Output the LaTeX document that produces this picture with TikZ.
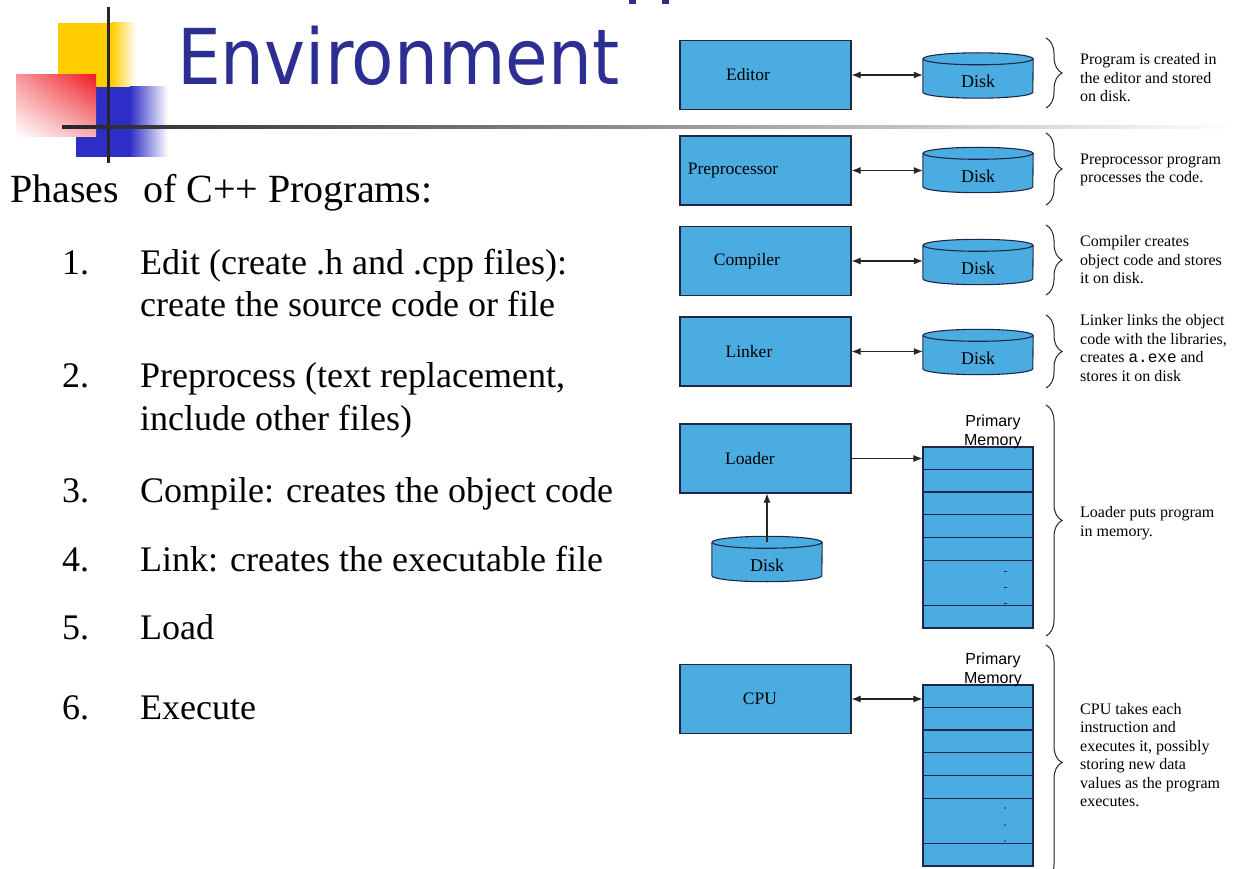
\documentclass[tikz,border=0pt]{standalone}
\usepackage{fontspec}
\setmainfont{Liberation Serif}
\newfontfamily\labelsans{Liberation Sans}
\newfontfamily\headsans{DejaVu Sans Condensed}
\newfontfamily\codemono{Liberation Mono}
\usetikzlibrary{arrows.meta,calc,decorations.pathreplacing,backgrounds,shadings}

\definecolor{stagefill}{RGB}{75,172,226}
\definecolor{stageline}{RGB}{30,40,70}
\definecolor{headblue}{RGB}{44,46,145}
\definecolor{sqyellow}{RGB}{255,204,0}
\definecolor{sqblue}{RGB}{45,45,200}
\definecolor{sqred}{RGB}{238,28,36}

\tikzset{
  stagebox/.style={draw=stageline, line width=1.1pt, fill=stagefill,
    minimum width=171pt, minimum height=69pt, inner sep=0pt,
    font=\fontsize{17.5}{20}\selectfont},
  diskbody/.style={minimum width=110pt, minimum height=33pt, inner sep=0pt,
    font=\fontsize{18}{20}\selectfont},
  membox/.style={draw=stageline, line width=1.1pt, fill=stagefill,
    minimum width=110pt, minimum height=181pt, inner sep=0pt},
  memrule/.style={draw=stageline, line width=1.2pt},
  memlabel/.style={font=\labelsans\fontsize{16}{19}\selectfont, align=center,
    inner sep=0pt, anchor=south},
  note/.style={font=\fontsize{16}{18.5}\selectfont, align=left, anchor=west,
    inner sep=0pt},
  flow/.style={line width=1.1pt, draw=black!85},
  phasebrace/.style={decorate, decoration={brace, amplitude=16pt},
    line width=1pt, draw=black!85},
  listnum/.style={font=\fontsize{36}{43}\selectfont, anchor=base west, inner sep=0pt},
  listtext/.style={font=\fontsize{36}{43}\selectfont, anchor=base west, inner sep=0pt},
}

% cylinder outline around a disk label node
\newcommand\diskshape[1]{%
  \fill[stagefill] ([yshift=6pt]#1.north west) rectangle ([yshift=6pt]#1.south east);
  \fill[stagefill] ([yshift=6pt]#1.south) ellipse [x radius=55pt, y radius=6pt];
  \draw[stageline, line width=1.1pt] ([yshift=6pt]#1.north west) -- ([yshift=6pt]#1.south west)
    arc[start angle=180, end angle=360, x radius=55pt, y radius=6pt]
    -- ([yshift=6pt]#1.north east);
  \draw[stageline, line width=1.1pt, fill=stagefill] ([yshift=6pt]#1.north)
    ellipse [x radius=55pt, y radius=6pt];
}

\begin{document}
\begin{tikzpicture}[x=1pt,y=-1pt,>={Latex[length=9pt,width=7pt]}]
\useasboundingbox (0,0) rectangle (1237,869);

% ---- slide decoration ----
\fill[sqyellow] (58,23) rectangle (112,100);
\shade[left color=sqyellow, right color=white] (111.5,23) rectangle (136,100);
\fill[sqblue] (76,87) rectangle (130,157);
\shade[left color=sqblue, right color=white] (129.5,87) rectangle (168,157);
\shade[upper left=sqred!45!white, upper right=sqred, lower left=white,
  lower right=sqred!35!white] (16,75) rectangle (96,137);
\draw[line width=3pt, black!85] (108,7) -- (108,163);
\shade[left color=black!85, right color=white] (62,125.5) rectangle (1237,129);

\node[font=\headsans\fontsize{77}{77}\selectfont, text=headblue, anchor=base west,
  inner sep=0pt] (title) at (177,85) {Environment};
\fill[headblue] (629,0) rectangle (636,4);
\fill[headblue] (662,0) rectangle (669,4);

% ---- phase list ----
\node[font=\fontsize{40}{48}\selectfont, anchor=base west, inner sep=0pt] (phases)
  at (10,203) {Phases\hspace{0.35em} of C++ Programs:};

\node[listnum] (n1) at (62,274) {1.};
\node[listtext] (t1) at (140,274)
  {\begin{tabular}[t]{@{}l@{}}Edit (create .h and .cpp files):\\create the source code or file\end{tabular}};
\node[listnum] (n2) at (62,387) {2.};
\node[listtext] (t2) at (140,387)
  {\begin{tabular}[t]{@{}l@{}}Preprocess (text replacement,\\include other files)\end{tabular}};
\node[listnum] (n3) at (62,502) {3.};
\node[listtext] (t3) at (140,502) {Compile: creates the object code};
\node[listnum] (n4) at (62,571) {4.};
\node[listtext] (t4) at (140,571) {Link: creates the executable file};
\node[listnum] (n5) at (62,639) {5.};
\node[listtext] (t5) at (140,639) {Load};
\node[listnum] (n6) at (62,719) {6.};
\node[listtext] (t6) at (140,719) {Execute};

% ---- stages ----
\node[stagebox] (editor) at (765.5,75)    {Editor\kern35pt};
\node[stagebox] (prep)   at (765.5,170.5) {Preprocessor\kern65pt};
\node[stagebox] (comp)   at (765.5,261)   {Compiler\kern37pt};
\node[stagebox] (linker) at (765.5,351.5) {Linker\kern33pt};
\node[stagebox] (loader) at (765.5,458.5) {Loader\kern31pt};
\node[stagebox] (cpu)    at (765.5,699)   {CPU\kern11pt};

\node[diskbody] (edisk) at (978,81.5) {Disk};
\node[diskbody] (pdisk) at (978,176)  {Disk};
\node[diskbody] (cdisk) at (978,268)  {Disk};
\node[diskbody] (kdisk) at (978,358)  {Disk};
\node[diskbody] (ldisk) at (767,565)  {Disk};

\begin{scope}[on background layer]
  \fill[white] (0,0) rectangle (1237,869);
  \diskshape{edisk}
  \diskshape{pdisk}
  \diskshape{cdisk}
  \diskshape{kdisk}
  \diskshape{ldisk}
\end{scope}

% ---- primary memory ----
\node[membox] (mem1) at (978,537.5) {};
\node[membox] (mem2) at (978,775.5) {};
\foreach \k in {1,2,3,4,5,7} {
  \draw[memrule] ($(mem1.north west)!\k/8!(mem1.south west)$) -- ($(mem1.north east)!\k/8!(mem1.south east)$);
}
\foreach \k/\w in {1/1.2pt,2/2.2pt,3/1.2pt,4/1.2pt,5/1.2pt,7/1.2pt} {
  \draw[memrule, line width=\w] ($(mem2.north west)!\k/8!(mem2.south west)$) -- ($(mem2.north east)!\k/8!(mem2.south east)$);
}
\foreach \yy in {571,587,603} \fill[stageline] (1003.5,\yy) rectangle (1006.5,\yy+1.2);
\foreach \yy in {808,825,841} \fill[stageline] (1005,\yy) circle[radius=0.9pt];

\node[memlabel] (mlab1) at ([xshift=15pt, yshift=-3pt]mem1.north) {Primary\\Memory};
\node[memlabel] (mlab2) at ([xshift=15pt, yshift=-3pt]mem2.north) {Primary\\Memory};

% ---- connectors ----
\draw[flow,<->] (editor.east) -- (editor.east -| edisk.west);
\draw[flow,<->] (prep.east)   -- (prep.east -| pdisk.west);
\draw[flow,<->] (comp.east)   -- (comp.east -| cdisk.west);
\draw[flow,<->] (linker.east) -- (linker.east -| kdisk.west);
\draw[flow,->]  (loader.east) -- (loader.east -| mem1.west);
\draw[flow,->]  ([yshift=6pt]ldisk.north) -- (ldisk.north |- loader.south);
\draw[flow,<->] (cpu.east)    -- (cpu.east -| mem2.west);

% ---- braces and notes ----
\coordinate (b1t) at (1046,38);  \coordinate (b1b) at (1046,108);
\coordinate (b2t) at (1046,133); \coordinate (b2b) at (1046,205);
\coordinate (b3t) at (1046,225); \coordinate (b3b) at (1046,295);
\coordinate (b4t) at (1046,315); \coordinate (b4b) at (1046,388);
\coordinate (b5t) at (1046,405); \coordinate (b5b) at (1046,636);
\coordinate (b6t) at (1046,645); \coordinate (b6b) at (1046,880);
\foreach \i in {1,...,6} \draw[phasebrace] (b\i t) -- (b\i b);

\node[note] (d1) at (1080,78)  {Program is created in\\the editor and stored\\on disk.};
\node[note] (d2) at (1080,170) {Preprocessor program\\processes the code.};
\node[note] (d3) at (1080,260) {Compiler creates\\object code and stores\\it on disk.};
\node[note] (d4) at (1080,348) {Linker links the object\\code with the libraries,\\creates {\codemono a.exe} and\\stores it on disk};
\node[note] (d5) at (1080,523) {Loader puts program\\in memory.};
\node[note] (d6) at (1080,755) {CPU takes each\\instruction and\\executes it, possibly\\storing new data\\values as the program\\executes.};
\end{tikzpicture}
\end{document}
